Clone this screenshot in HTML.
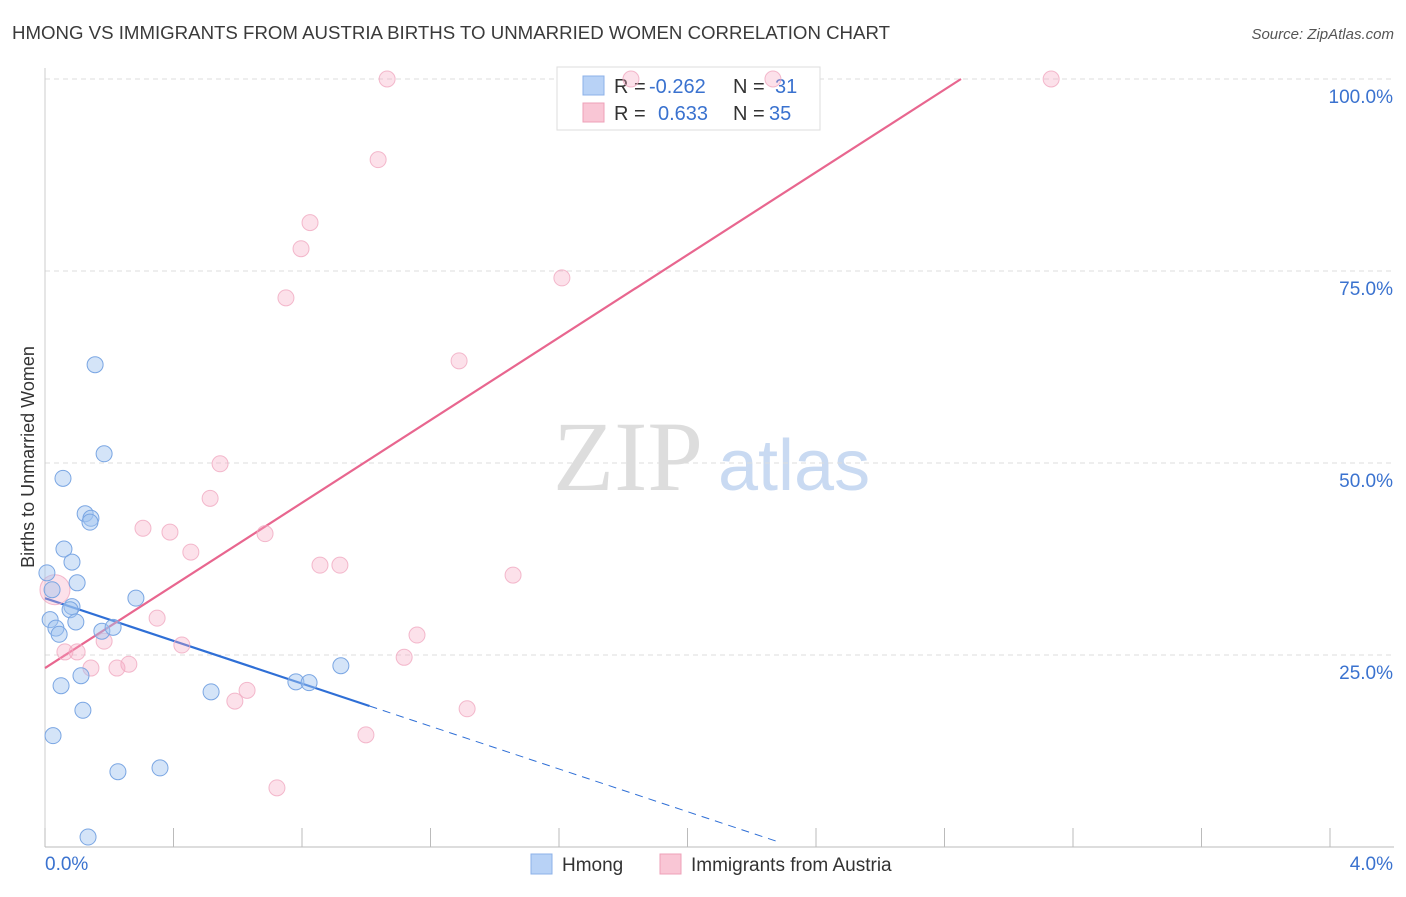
<!DOCTYPE html>
<html><head><meta charset="utf-8"><style>
body{margin:0;background:#fff;font-family:"Liberation Sans",sans-serif;}
</style></head><body>
<svg id="chart" width="1406" height="892" xmlns="http://www.w3.org/2000/svg" font-family="Liberation Sans, sans-serif">
<text x="12" y="39" font-size="18" fill="#3a3a3a" textLength="878" lengthAdjust="spacingAndGlyphs">HMONG VS IMMIGRANTS FROM AUSTRIA BIRTHS TO UNMARRIED WOMEN CORRELATION CHART</text>
<text x="1394" y="39" font-size="15" fill="#555" text-anchor="end" font-style="italic">Source: ZipAtlas.com</text>
<g><text x="553" y="490" font-size="100" fill="#ddd" style="font-family:'Liberation Serif',serif">ZIP</text><text x="718" y="490" font-size="72" fill="#c9daf2">atlas</text></g>
<g id="grid"></g><g id="axes"></g><g id="lines"></g>
<text transform="translate(34,457) rotate(-90)" font-size="18" fill="#333" text-anchor="middle">Births to Unmarried Women</text>
<g>
<rect x="557" y="67" width="263" height="63" fill="#fff" stroke="#ddd"/>
<rect x="583" y="76" width="21" height="19" fill="#b8d2f6" stroke="#8cb1e8"/>
<rect x="583" y="103" width="21" height="19" fill="#f9c6d5" stroke="#eea0b8"/>
<text x="614" y="93" font-size="20" fill="#333">R = </text><text x="649" y="93" font-size="20" fill="#3a72cf">-0.262</text>
<text x="733" y="93" font-size="20" fill="#333">N = </text><text x="775" y="93" font-size="20" fill="#3a72cf">31</text>
<text x="614" y="120" font-size="20" fill="#333">R = </text><text x="658" y="120" font-size="20" fill="#3a72cf">0.633</text>
<text x="733" y="120" font-size="20" fill="#333">N = </text><text x="769" y="120" font-size="20" fill="#3a72cf">35</text>
</g>
<g id="pts"></g>
<g>
<rect x="531" y="854" width="21" height="20" fill="#b8d2f6" stroke="#8cb1e8"/>
<text x="562" y="871" font-size="19" fill="#333">Hmong</text>
<rect x="660" y="854" width="21" height="20" fill="#f9c6d5" stroke="#eea0b8"/>
<text x="691" y="871" font-size="19" fill="#333">Immigrants from Austria</text>
</g>
</svg>
<script>
const hmongX=[0.156,0.184,0.056,0.125,0.143,0.140,0.059,0.084,0.100,0.006,0.022,0.084,0.078,0.096,0.016,0.034,0.044,0.177,0.212,0.283,0.050,0.112,0.118,0.025,0.227,0.358,0.134,0.517,0.781,0.822,0.921];
const hmongY=[62.8,51.2,48.0,43.4,42.8,42.3,38.8,37.1,34.4,35.7,33.5,31.3,30.9,29.3,29.6,28.5,27.7,28.1,28.6,32.4,21.0,22.3,17.8,14.5,9.8,10.3,1.3,20.2,21.5,21.4,23.6];
const austriaX=[1.065,1.824,2.266,3.132,1.037,0.825,0.797,0.750,1.609,1.289,0.545,0.514,0.305,0.389,0.685,0.454,0.856,0.918,1.457,0.031,0.349,1.158,0.184,0.426,0.062,0.100,0.143,0.224,0.261,1.118,0.629,0.591,1.314,0.999,0.722];
const austriaY=[100,100,100,100,89.5,81.3,77.9,71.5,74.1,63.3,49.9,45.4,41.5,41.0,40.8,38.4,36.7,36.7,35.4,33.5,29.8,27.6,26.8,26.3,25.4,25.4,23.3,23.3,23.8,24.7,20.4,19.0,18.0,14.6,7.7];
const yTicks=[25,50,75,100];
const xTickLabels=["0.0%","4.0%"];
const hmongTrend=[32.4,-13.9];
const austriaTrend=[23.3,26.9];
const NS="http://www.w3.org/2000/svg";
const sx=v=>45+v*321.25, sy=v=>847-v*7.68;
function mk(tag,attrs,parent){const e=document.createElementNS(NS,tag);for(const k in attrs)e.setAttribute(k,attrs[k]);document.getElementById(parent).appendChild(e);return e;}
yTicks.forEach(t=>{
 const l=mk('line',{x1:45,x2:1394,y1:sy(t),y2:sy(t),stroke:'#ddd','stroke-dasharray':'5,4'},'grid');
 
 
 const tx=mk('text',{x:1393,y:sy(t)+24,'font-size':19,fill:'#3a72cf','text-anchor':'end'},'grid');tx.textContent=t.toFixed(1)+'%';
 
 
});
const ax=mk('line',{x1:45,x2:45,y1:68,y2:847,stroke:'#ccc'},'axes');


const bx=mk('line',{x1:45,x2:1394,y1:847,y2:847,stroke:'#bbb'},'axes');


for(let i=0;i<=10;i++){const t=mk('line',{x1:sx(i*0.4),x2:sx(i*0.4),y1:828,y2:847,stroke:'#bbb'},'axes');
 
 }
[[0,'start',45],[1,'end',1393]].forEach(([i,a,x])=>{const t=mk('text',{x:x,y:870,'font-size':19,fill:'#3a72cf','text-anchor':a},'axes');t.textContent=xTickLabels[i];
 
 });
function line(tr,x0,x1,col,dash,name){const l=mk('line',{x1:sx(x0),y1:sy(tr[0]+tr[1]*x0),x2:sx(x1),y2:sy(tr[0]+tr[1]*x1),stroke:col,'stroke-width':dash?1:2.2},'lines');if(dash)l.setAttribute('stroke-dasharray','8,6');
 
 }
line(hmongTrend,0,1.01,'#2f6fd6',false,'hmong-trend-line');
line(hmongTrend,1.01,2.28,'#2f6fd6',true,'hmong-trend-extension');
const aEnd=(100-austriaTrend[0])/austriaTrend[1];
line(austriaTrend,0,aEnd,'#e8668f',false,'austria-trend-line');
austriaX.forEach((x,i)=>{const c=mk('circle',{cx:sx(x),cy:sy(austriaY[i]),r:i==19?15:8,fill:'rgba(246,170,195,0.35)',stroke:'rgba(240,169,192,0.8)','stroke-width':1},'pts');
 
 });
hmongX.forEach((x,i)=>{const c=mk('circle',{cx:sx(x),cy:sy(hmongY[i]),r:8,fill:'rgba(160,195,240,0.45)',stroke:'#7aa6e3','stroke-width':1},'pts');
 
 });
</script>
</body></html>
